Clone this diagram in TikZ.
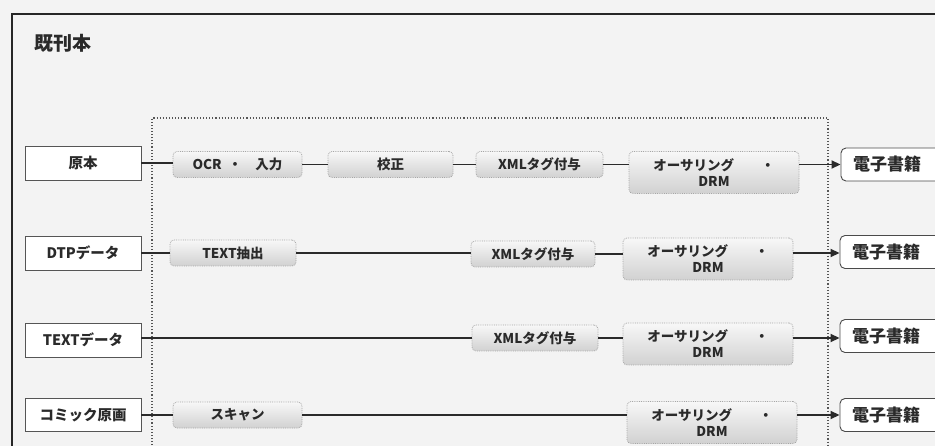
\documentclass[tikz,border=0pt]{standalone}
\usepackage{fontspec}
\newfontfamily\jp{Noto Sans CJK JP}
\usetikzlibrary{arrows.meta}
\definecolor{ink}{HTML}{2A2A2A}
\definecolor{paper}{HTML}{F3F3F3}
\tikzset{
  srcbox/.style={draw=ink!80, line width=0.9pt, fill=white, minimum width=116pt, minimum height=34pt, inner sep=0pt, font=\jp\bfseries\fontsize{14.5}{16}\selectfont, text=ink},
  procbox/.style={draw=gray!70, densely dotted, line width=0.8pt, rounded corners=4pt, top color=gray!6, bottom color=gray!36, minimum height=26pt, inner sep=0pt, font=\jp\bfseries\fontsize{13.5}{15}\selectfont, text=ink},
  authbox/.style={procbox, minimum width=170pt, minimum height=42pt, align=center, font=\jp\bfseries\fontsize{13.5}{16}\selectfont},
  ebook/.style={draw=ink!85, line width=0.9pt, rounded corners=5pt, fill=white, minimum width=112pt, minimum height=33pt, inner sep=0pt, text width=88pt, font=\jp\bfseries\fontsize{17}{19}\selectfont, text=ink},
  conn/.style={draw=ink, line width=1.7pt},
  arr/.style={conn, -{Triangle[length=9pt,width=8pt]}},
}
\begin{document}
\begin{tikzpicture}[x=1pt,y=-1pt]
\useasboundingbox (0,0) rectangle (935,446);
\clip (0,0) rectangle (935,446);
\fill[paper] (0,0) rectangle (935,446);
% outer frame (continues past the picture edges)
\draw[black!85, line width=1.6pt] (960,14) -- (12,14) -- (12,470);
\node[anchor=west, font=\jp\bfseries\fontsize{19}{21}\selectfont, text=ink] (title) at (31,43) {既刊本};
% dotted region
\draw[ink!80, dotted, line width=1.1pt] (152,470) -- (152,118) -- (828,118) -- (828,470);

% row 1
\node[srcbox] (s1) at (83,163) {原本};
\node[procbox, minimum width=129pt] (ocr) at (237.5,164.5) {OCR\enspace・\quad 入力};
\node[procbox, minimum width=125pt] (kou) at (390.5,164.5) {校正};
\node[procbox, minimum width=127pt] (xml1) at (539.5,164.5) {XMLタグ付与};
\node[authbox] (a1) at (714,172.5) {オーサリング\qquad・\\DRM};
\node[ebook] (e1) at (897,164.5) {電子書籍};
\draw[conn] (s1.east) -- (s1.east -| ocr.west);
\draw[conn] (ocr.east) -- (ocr.east -| kou.west);
\draw[conn] (kou.east) -- (kou.east -| xml1.west);
\draw[conn] (xml1.east) -- (xml1.east -| a1.west);
\draw[arr] (a1.east |- xml1.east) -- (e1.west |- xml1.east);

% row 2
\node[srcbox] (s2) at (83,253) {DTPデータ};
\node[procbox, minimum width=126pt] (txt) at (233,253) {TEXT抽出};
\node[procbox, minimum width=124pt] (xml2) at (533,254) {XMLタグ付与};
\node[authbox] (a2) at (708,259) {オーサリング\qquad・\\DRM};
\node[ebook] (e2) at (896,252) {電子書籍};
\draw[conn] (s2.east) -- (s2.east -| txt.west);
\draw[conn] (txt.east) -- (txt.east -| xml2.west);
\draw[conn] (xml2.west -| xml2.east) -- (xml2.east -| a2.west);
\draw[arr] (a2.east |- s2.east) -- (e2.west |- s2.east);

% row 3
\node[srcbox] (s3) at (83,340) {TEXTデータ};
\node[procbox, minimum width=126pt] (xml3) at (535,338) {XMLタグ付与};
\node[authbox] (a3) at (708,344) {オーサリング\qquad・\\DRM};
\node[ebook] (e3) at (896,336) {電子書籍};
\draw[conn] (s3.east |- xml3.west) -- (xml3.west);
\draw[conn] (xml3.east) -- (xml3.east -| a3.west);
\draw[arr] (a3.east |- xml3.east) -- (e3.west |- xml3.east);

% row 4
\node[srcbox, minimum height=33pt] (s4) at (83,415) {コミック原画};
\node[procbox, minimum width=129pt] (scan) at (237.5,415) {スキャン};
\node[authbox] (a4) at (712,422.5) {オーサリング\qquad・\\DRM};
\node[ebook] (e4) at (896,415) {電子書籍};
\draw[conn] (s4.east) -- (s4.east -| scan.west);
\draw[conn] (scan.east) -- (scan.east -| a4.west);
\draw[arr] (a4.east |- scan.east) -- (e4.west |- scan.east);
\end{tikzpicture}
\end{document}
